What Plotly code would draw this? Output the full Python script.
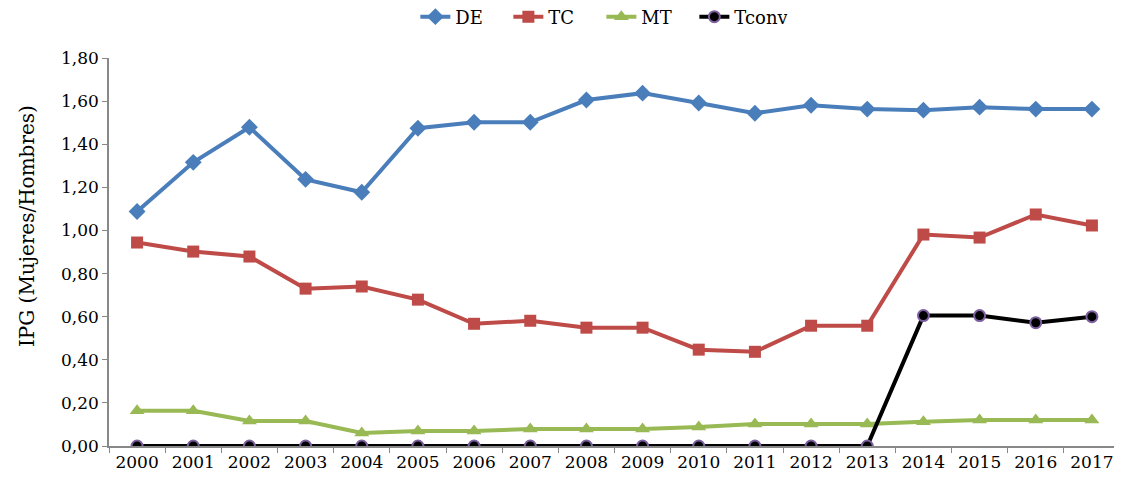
import plotly.graph_objects as go

years = [str(y) for y in range(2000, 2018)]
de = [1.088, 1.316, 1.479, 1.237, 1.177, 1.474, 1.502, 1.502, 1.605, 1.637,
      1.591, 1.544, 1.581, 1.563, 1.558, 1.572, 1.563, 1.563]
tc = [0.944, 0.902, 0.879, 0.730, 0.740, 0.679, 0.567, 0.581, 0.549, 0.549,
      0.447, 0.437, 0.558, 0.558, 0.981, 0.967, 1.074, 1.023]
mt = [0.163, 0.163, 0.116, 0.116, 0.060, 0.070, 0.070, 0.079, 0.079, 0.079,
      0.088, 0.102, 0.102, 0.102, 0.112, 0.121, 0.121, 0.121]
tconv = [0, 0, 0, 0, 0, 0, 0, 0, 0, 0, 0, 0, 0, 0, 0.605, 0.605, 0.572, 0.600]

FONT = "DejaVu Serif"

fig = go.Figure()
fig.add_trace(go.Scatter(x=years, y=de, name="DE", mode="lines+markers",
                         line=dict(color="#4A7EBB", width=4),
                         marker=dict(symbol="diamond", size=13, color="#4A7EBB")))
fig.add_trace(go.Scatter(x=years, y=tc, name="TC", mode="lines+markers",
                         line=dict(color="#BE4B48", width=4),
                         marker=dict(symbol="square", size=12, color="#BE4B48")))
fig.add_trace(go.Scatter(x=years, y=mt, name="MT", mode="lines+markers",
                         line=dict(color="#98B954", width=4),
                         marker=dict(symbol="triangle-up", size=13, color="#98B954")))
fig.add_trace(go.Scatter(x=years, y=tconv, name="Tconv", mode="lines+markers",
                         line=dict(color="#000000", width=4),
                         marker=dict(symbol="circle", size=11, color="#000000",
                                     line=dict(color="#7D60A0", width=2))))

# page body adds an 8px offset, so the figure is 8px smaller than the window
fig.update_layout(
    width=1114, height=471,
    margin=dict(l=101, r=2, t=50, b=33, autoexpand=False),
    paper_bgcolor="white", plot_bgcolor="white",
    separators=",.",
    font=dict(family=FONT, size=17, color="#000000"),
    legend=dict(orientation="h", x=0.487, xanchor="center", y=0.981, yanchor="middle",
                yref="container", font=dict(size=18), entrywidth=48, entrywidthmode="pixels",
                bgcolor="rgba(0,0,0,0)"),
    xaxis=dict(type="category", range=[-0.5, 17.5], showgrid=False, showline=True,
               linecolor="#888888", linewidth=1.5, ticks="outside", tickson="boundaries",
               ticklen=5, tickcolor="#888888", tickfont=dict(size=17), automargin=False),
    yaxis=dict(range=[0, 1.8], dtick=0.2, tickformat=".2f", showgrid=False,
               showline=True, linecolor="#888888", linewidth=1.5, ticks="outside",
               ticklen=5, tickcolor="#888888", zeroline=False, automargin=False,
               tickfont=dict(size=17)),
    annotations=[dict(text="IPG (Mujeres/Hombres)", xref="paper", yref="paper",
                      x=-0.081, y=0.567, xanchor="center", yanchor="middle",
                      textangle=-90, showarrow=False, font=dict(size=20))],
)

fig.write_html("out.html")
